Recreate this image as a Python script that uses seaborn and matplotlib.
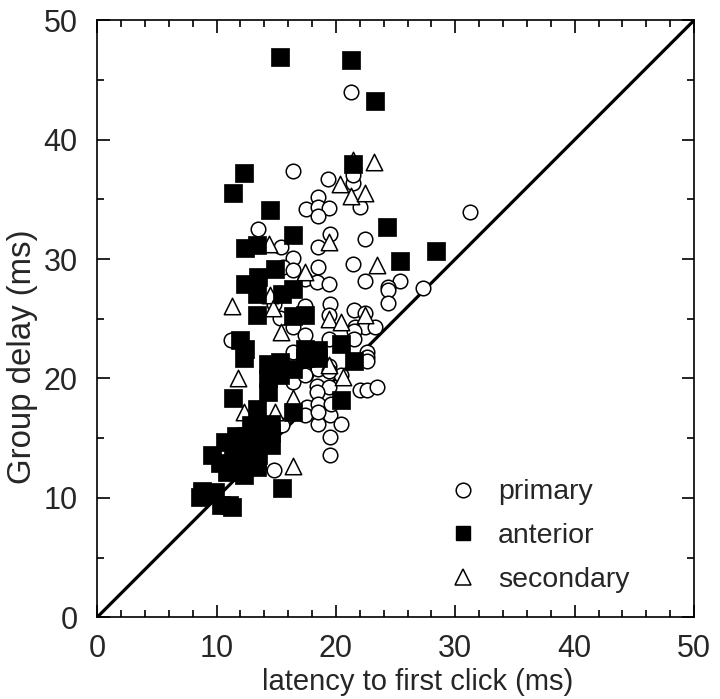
import numpy as np
import pandas as pd
import matplotlib
matplotlib.use("Agg")
import matplotlib.pyplot as plt
from matplotlib.lines import Line2D
from matplotlib.ticker import MultipleLocator
import seaborn as sns

# ---- data (latency to first click, group delay), ms ----
primary_x = [21.3, 16.4, 19.3, 21.4, 21.4, 21.4, 18.5, 17.5, 18.5, 19.4, 18.5, 22.0,
             13.5, 19.5, 22.4, 18.5, 15.4, 31.2, 16.4, 15.6, 16.4, 18.5, 21.4, 17.4,
             18.4, 19.4, 22.4, 25.4, 24.4, 24.4, 27.3, 24.4, 19.5, 17.4, 14.8, 21.5,
             22.4, 19.4, 15.3, 16.4, 21.6, 22.4, 23.3, 21.5, 17.4, 19.4, 21.5, 11.2,
             16.4, 22.6, 22.6, 22.6, 18.4, 19.4, 17.5, 20.4, 16.4, 22.0, 22.6, 23.4,
             18.4, 19.4, 18.4, 17.6, 17.4, 18.5, 15.5, 19.5, 20.4, 19.5, 19.5, 14.8,
             18.5, 17.4, 18.5, 19.6, 18.5, 19.4]
primary_y = [44.0, 37.4, 36.7, 36.4, 37.6, 37.0, 35.2, 34.2, 34.4, 34.3, 33.6, 34.4,
             32.5, 32.1, 31.7, 31.0, 31.0, 33.9, 30.1, 29.3, 29.1, 29.3, 29.6, 28.3,
             28.1, 27.9, 28.2, 28.2, 27.7, 27.4, 27.6, 26.3, 26.2, 26.1, 26.2, 25.7,
             25.5, 25.3, 25.1, 24.3, 24.3, 24.3, 24.3, 24.0, 23.6, 23.3, 23.3, 23.2,
             22.2, 22.2, 21.8, 21.5, 21.0, 21.0, 20.4, 20.3, 19.7, 19.0, 19.0, 19.3,
             19.4, 19.3, 18.9, 17.6, 16.9, 16.2, 16.1, 16.9, 16.2, 15.1, 13.6, 12.3,
             20.8, 20.3, 17.9, 17.9, 17.2, 20.6]

anterior_x = [15.3, 21.3, 23.3, 12.3, 21.4, 11.4, 14.5, 24.3, 16.4, 28.4, 25.4, 12.4,
              13.4, 14.9, 13.5, 12.4, 13.4, 15.5, 16.4, 13.4, 16.4, 17.4, 12.0, 12.4,
              12.3, 17.4, 18.5, 17.4, 18.5, 20.4, 21.5, 15.3, 14.3, 16.4, 14.3, 15.3,
              14.3, 20.4, 11.4, 13.4, 12.9, 14.6, 14.3, 14.6, 14.6, 14.3, 11.6, 12.5,
              11.4, 12.5, 10.7, 12.5, 9.6, 10.3, 10.9, 11.0, 12.1, 12.9, 12.3, 13.4,
              13.4, 13.5, 13.5, 16.4, 15.5, 8.8, 9.5, 8.6, 9.9, 11.0, 10.4, 11.3]
anterior_y = [46.9, 46.7, 43.2, 37.2, 38.0, 35.5, 34.1, 32.7, 32.0, 30.7, 29.8, 30.9,
              31.2, 29.2, 28.5, 27.9, 27.1, 27.1, 27.5, 25.3, 25.2, 25.3, 23.2, 22.5,
              21.7, 22.5, 22.4, 21.7, 21.7, 22.9, 21.5, 21.4, 21.2, 20.8, 20.0, 20.3,
              18.9, 18.2, 18.4, 17.4, 16.1, 16.2, 16.1, 15.4, 14.4, 14.8, 15.2, 15.2,
              14.0, 14.0, 14.7, 13.0, 13.6, 12.9, 12.2, 12.7, 13.0, 12.7, 11.9, 13.1,
              12.6, 15.1, 13.6, 17.2, 10.8, 10.6, 10.3, 10.1, 10.5, 9.4, 9.4, 9.2]

secondary_x = [23.2, 21.4, 20.3, 21.3, 22.4, 19.4, 14.4, 23.4, 17.4, 14.5, 14.7, 11.3,
               19.4, 22.4, 20.4, 15.4, 19.4, 20.6, 11.8, 16.4, 12.3, 14.9, 16.4]
secondary_y = [38.1, 38.3, 36.3, 35.3, 35.5, 31.4, 31.3, 29.5, 28.9, 27.0, 25.9, 26.1,
               25.0, 25.3, 24.7, 23.9, 21.1, 20.1, 20.0, 18.4, 17.2, 17.2, 12.7]

group_names = ["primary", "anterior", "secondary"]
x_ticks = [0, 10, 20, 30, 40, 50]
y_ticks = [0, 10, 20, 30, 40, 50]

df = pd.DataFrame({
    "latency": primary_x + anterior_x + secondary_x,
    "delay": primary_y + anterior_y + secondary_y,
    "area": ([group_names[0]] * len(primary_x) + [group_names[1]] * len(anterior_x)
             + [group_names[2]] * len(secondary_x)),
})

sns.set_theme(style="ticks")
plt.rcParams["font.family"] = ["Liberation Sans", "DejaVu Sans"]

fig = plt.figure(figsize=(7.2, 6.99), dpi=100)
ax = fig.add_axes([0.135, 0.117, 0.829, 0.854])

ax.plot([0, 50], [0, 50], color="black", lw=2.3, zorder=1)

styles = {
    "primary": dict(marker="o", s=110, facecolor="white", edgecolor="black", linewidth=1.1),
    "secondary": dict(marker="^", s=140, facecolor="white", edgecolor="black", linewidth=1.1),
    "anterior": dict(marker="s", s=155, facecolor="black", edgecolor="black", linewidth=0.5),
}
for i, g in enumerate(["primary", "secondary", "anterior"]):
    sub = df[df["area"] == g]
    sns.scatterplot(data=sub, x="latency", y="delay", ax=ax, legend=False,
                    zorder=2 + i, **styles[g])

ax.set_xlim(0, 50)
ax.set_ylim(0, 50)
ax.set_xticks(x_ticks)
ax.set_yticks(y_ticks)
ax.xaxis.set_minor_locator(MultipleLocator(2))
ax.yaxis.set_minor_locator(MultipleLocator(5))
ax.tick_params(which="both", direction="in", top=True, right=True, color="black", width=1.2)
ax.tick_params(which="major", length=9, labelsize=22)
ax.tick_params(axis="x", which="major", pad=12)
ax.tick_params(axis="y", which="major", pad=14)
ax.tick_params(which="minor", length=5)
for sp in ax.spines.values():
    sp.set_linewidth(1.2)
    sp.set_color("black")

ax.set_xlabel("latency to first click (ms)", fontsize=21)
ax.set_ylabel("Group delay (ms)", fontsize=23.8)
ax.xaxis.set_label_coords(0.536, -0.085)
ax.yaxis.set_label_coords(-0.100, 0.437)

handles = [
    Line2D([], [], ls="", marker="o", markersize=10.5, markerfacecolor="white",
           markeredgecolor="black", markeredgewidth=1.1),
    Line2D([], [], ls="", marker="s", markersize=10.5, markerfacecolor="black",
           markeredgecolor="black"),
    Line2D([], [], ls="", marker="^", markersize=11.5, markerfacecolor="white",
           markeredgecolor="black", markeredgewidth=1.1),
]
ax.legend(handles, group_names, loc="lower right", bbox_to_anchor=(0.935, -0.002),
          frameon=False, fontsize=20.5, handletextpad=0.75, labelspacing=0.62,
          handlelength=1.0)

fig.savefig("out.png", dpi=100)
